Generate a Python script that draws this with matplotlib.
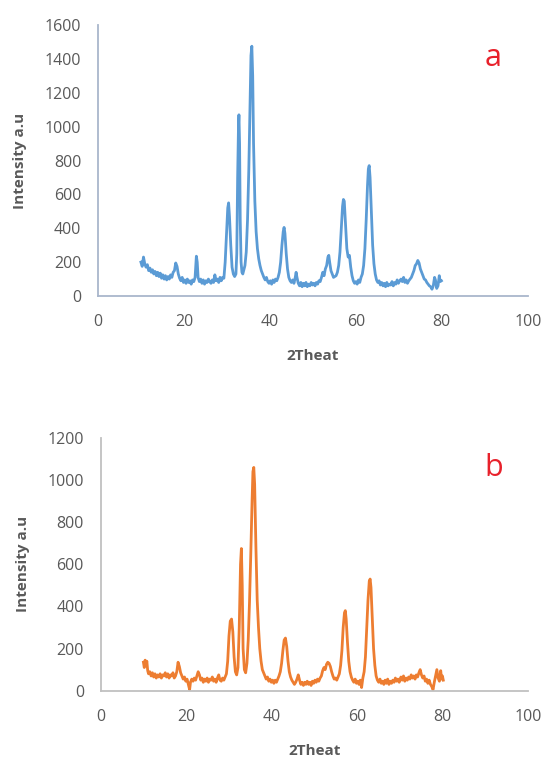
import matplotlib.pyplot as plt

# --- pattern (a): 2theta / intensity ---
theta_a = [10.0, 10.3, 10.6, 10.9, 11.2, 11.5, 11.8, 12.1, 12.4, 12.7, 13.0, 13.3, 13.6, 13.9,
           14.2, 14.5, 14.8, 15.1, 15.4, 15.7, 16.0, 16.3, 16.6, 16.9, 17.2, 17.5, 17.8, 18.1,
           18.4, 18.7, 19.0, 19.3, 19.6, 19.9, 20.2, 20.5, 20.8, 21.1, 21.4, 21.7, 22.0, 22.3,
           22.6, 22.9, 23.1, 23.3, 23.6, 23.9, 24.2, 24.5, 24.8, 25.1, 25.4, 25.7, 26.0, 26.3,
           26.6, 26.9, 27.2, 27.5, 27.8, 28.1, 28.4, 28.7, 29.0, 29.3, 29.6, 29.9, 30.2, 30.4,
           30.6, 30.9, 31.2, 31.5, 31.8, 32.1, 32.3, 32.5, 32.7, 32.8, 32.95, 33.1, 33.3, 33.5,
           33.7, 33.9, 34.2, 34.5, 34.8, 35.1, 35.4, 35.6, 35.8, 36.0, 36.2, 36.5, 36.8, 37.1,
           37.4, 37.7, 38.0, 38.3, 38.6, 38.9, 39.2, 39.5, 39.8, 40.1, 40.4, 40.7, 41.0, 41.3,
           41.6, 41.9, 42.2, 42.5, 42.8, 43.1, 43.3, 43.5, 43.8, 44.1, 44.4, 44.7, 45.0, 45.3,
           45.6, 45.9, 46.1, 46.3, 46.6, 46.9, 47.2, 47.5, 47.8, 48.1, 48.4, 48.7, 49.0, 49.3,
           49.6, 49.9, 50.2, 50.5, 50.8, 51.1, 51.4, 51.7, 52.0, 52.3, 52.6, 52.9, 53.2, 53.5,
           53.7, 53.9, 54.2, 54.5, 54.8, 55.1, 55.4, 55.7, 56.0, 56.3, 56.6, 56.9, 57.1, 57.3,
           57.6, 57.9, 58.2, 58.5, 58.8, 59.1, 59.4, 59.7, 60.0, 60.3, 60.6, 60.9, 61.2, 61.5,
           61.8, 62.1, 62.4, 62.7, 62.9, 63.1, 63.3, 63.6, 63.9, 64.2, 64.5, 64.8, 65.1, 65.4,
           65.7, 66.0, 66.3, 66.6, 66.9, 67.2, 67.5, 67.8, 68.1, 68.4, 68.7, 69.0, 69.3, 69.6,
           69.9, 70.2, 70.5, 70.8, 71.1, 71.4, 71.7, 72.0, 72.3, 72.6, 72.9, 73.2, 73.5, 73.8,
           74.1, 74.4, 74.7, 75.0, 75.3, 75.6, 75.9, 76.2, 76.5, 76.8, 77.1, 77.4, 77.7, 78.0,
           78.3, 78.5, 78.8, 79.1, 79.4, 79.6, 79.9]
int_a = [200, 175, 230, 190, 170, 185, 150, 165, 140, 155, 130, 145, 120, 140,
         115, 135, 105, 125, 100, 120, 95, 115, 100, 125, 110, 140, 150, 195,
         175, 130, 105, 90, 110, 80, 95, 75, 100, 80, 90, 70, 95, 85,
         110, 235, 200, 110, 85, 100, 75, 95, 70, 90, 80, 100, 85, 75,
         95, 80, 125, 90, 100, 80, 110, 90, 110, 105, 200, 360, 520, 550,
         470, 300, 170, 130, 115, 130, 250, 700, 1010, 1070, 900, 450, 200, 140,
         130, 150, 180, 260, 450, 750, 1150, 1420, 1475, 1300, 900, 560, 380, 280,
         220, 180, 150, 130, 110, 95, 110, 85, 75, 90, 70, 95, 80, 100,
         90, 110, 140, 200, 300, 380, 405, 370, 250, 160, 110, 90, 80, 95,
         75, 110, 140, 110, 75, 60, 80, 55, 75, 60, 80, 55, 70, 60,
         80, 65, 75, 60, 80, 70, 90, 85, 110, 140, 120, 160, 180, 230,
         240, 200, 150, 130, 110, 115, 120, 140, 180, 260, 400, 530, 570, 560,
         420, 280, 230, 240, 170, 120, 90, 75, 85, 70, 95, 80, 110, 130,
         180, 280, 450, 650, 750, 770, 700, 500, 300, 190, 130, 95, 80, 90,
         65, 80, 60, 75, 55, 80, 60, 70, 65, 85, 60, 80, 70, 95,
         75, 90, 100, 85, 110, 80, 95, 75, 90, 100, 110, 130, 150, 180,
         190, 210, 195, 160, 140, 120, 100, 95, 80, 70, 60, 55, 40, 60,
         110, 95, 45, 60, 120, 85, 90]

# --- pattern (b) ---
theta_b = [10.0, 10.2, 10.4, 10.6, 10.8, 11.0, 11.2, 11.5, 11.8, 12.1, 12.4, 12.7, 13.0, 13.3,
           13.6, 13.9, 14.2, 14.5, 14.8, 15.1, 15.4, 15.7, 16.0, 16.3, 16.6, 16.9, 17.2, 17.5,
           17.8, 18.1, 18.4, 18.7, 19.0, 19.3, 19.6, 19.9, 20.2, 20.5, 20.8, 21.0, 21.3, 21.6,
           21.9, 22.2, 22.5, 22.8, 23.1, 23.4, 23.7, 24.0, 24.3, 24.6, 24.9, 25.2, 25.5, 25.8,
           26.1, 26.4, 26.7, 27.0, 27.3, 27.6, 27.9, 28.2, 28.5, 28.8, 29.1, 29.4, 29.7, 30.0,
           30.3, 30.6, 30.9, 31.2, 31.5, 31.8, 32.1, 32.4, 32.7, 32.9, 33.1, 33.3, 33.6, 33.9,
           34.2, 34.5, 34.8, 35.1, 35.4, 35.6, 35.8, 36.0, 36.3, 36.6, 36.9, 37.2, 37.5, 37.8,
           38.1, 38.4, 38.7, 39.0, 39.3, 39.6, 39.9, 40.2, 40.5, 40.8, 41.1, 41.4, 41.7, 42.0,
           42.3, 42.6, 42.9, 43.2, 43.5, 43.8, 44.1, 44.4, 44.7, 45.0, 45.3, 45.6, 45.9, 46.2,
           46.5, 46.8, 47.1, 47.4, 47.7, 48.0, 48.3, 48.6, 48.9, 49.2, 49.5, 49.8, 50.1, 50.4,
           50.7, 51.0, 51.3, 51.6, 51.9, 52.2, 52.5, 52.8, 53.1, 53.4, 53.7, 54.0, 54.3, 54.6,
           54.9, 55.2, 55.5, 55.8, 56.1, 56.4, 56.7, 57.0, 57.2, 57.4, 57.7, 58.0, 58.3, 58.6,
           58.9, 59.2, 59.5, 59.8, 60.1, 60.4, 60.7, 61.0, 61.3, 61.6, 61.9, 62.2, 62.5, 62.8,
           63.0, 63.2, 63.5, 63.8, 64.1, 64.4, 64.7, 65.0, 65.3, 65.6, 65.9, 66.2, 66.5, 66.8,
           67.1, 67.4, 67.7, 68.0, 68.3, 68.6, 68.9, 69.2, 69.5, 69.8, 70.2, 70.5, 70.8, 71.1,
           71.4, 71.7, 72.0, 72.3, 72.6, 72.9, 73.2, 73.5, 73.8, 74.1, 74.4, 74.7, 75.0, 75.3,
           75.6, 75.9, 76.2, 76.5, 76.8, 77.1, 77.4, 77.7, 78.0, 78.3, 78.6, 78.9, 79.2, 79.5,
           79.7, 79.9, 80.1]
int_b = [135, 110, 145, 120, 140, 95, 80, 90, 70, 85, 65, 80, 60, 75,
         65, 80, 60, 75, 70, 85, 65, 80, 60, 75, 70, 85, 60, 70,
         90, 135, 115, 85, 70, 55, 65, 45, 55, 30, 5, 40, 55, 45,
         60, 50, 70, 90, 75, 50, 60, 40, 55, 45, 60, 40, 55, 50,
         65, 45, 55, 40, 60, 75, 50, 45, 60, 50, 65, 80, 140, 260,
         330, 340, 280, 160, 90, 75, 110, 300, 600, 675, 500, 200, 100, 85,
         130, 240, 420, 650, 900, 1040, 1060, 980, 680, 430, 300, 200, 140, 100,
         85, 70, 55, 65, 45, 55, 40, 50, 35, 50, 40, 55, 70, 90,
         130, 190, 240, 250, 210, 140, 90, 65, 50, 40, 30, 40, 55, 75,
         50, 30, 40, 25, 40, 30, 45, 30, 40, 25, 45, 35, 50, 40,
         55, 45, 60, 70, 95, 110, 100, 125, 135, 130, 115, 90, 70, 55,
         60, 50, 65, 80, 120, 190, 300, 370, 380, 340, 230, 140, 90, 65,
         50, 40, 55, 35, 45, 30, 50, 15, 60, 90, 160, 290, 430, 520,
         530, 490, 350, 200, 120, 70, 50, 40, 55, 35, 45, 30, 50, 35,
         55, 30, 45, 35, 50, 40, 60, 45, 55, 40, 65, 50, 70, 45,
         60, 50, 65, 55, 75, 60, 70, 55, 75, 65, 85, 100, 75, 60,
         70, 45, 55, 35, 50, 30, 20, 5, 40, 70, 100, 60, 45, 95,
         55, 70, 50]

x_ticks = [0, 20, 40, 60, 80, 100]
y_ticks_a = [0, 200, 400, 600, 800, 1000, 1200, 1400, 1600]
y_ticks_b = [0, 200, 400, 600, 800, 1000, 1200]

plt.rcParams['font.family'] = ['Open Sans', 'DejaVu Sans']

fig = plt.figure(figsize=(5.47, 7.59), dpi=100)
ax1 = fig.add_axes([0.179, 0.610, 0.786, 0.357])
ax2 = fig.add_axes([0.184, 0.090, 0.782, 0.333])

panels = [
    (ax1, theta_a, int_a, '#5b9bd5', y_ticks_a, '#a9b6cc', 'a', -0.195),
    (ax2, theta_b, int_b, '#ed7d31', y_ticks_b, '#c0c0c0', 'b', -0.21),
]
for ax, x, y, col, yt, axcol, tag, xlab_y in panels:
    ax.plot(x, y, color=col, lw=2.0)
    ax.set_xlim(0, 100)
    ax.set_ylim(0, yt[-1])
    ax.set_xticks(x_ticks)
    ax.set_yticks(yt)
    for s in ['top', 'right']:
        ax.spines[s].set_visible(False)
    for s in ['left', 'bottom']:
        ax.spines[s].set_color(axcol)
        ax.spines[s].set_linewidth(1.3)
    ax.tick_params(length=0, labelsize=11.5, labelcolor='#595959')
    ax.tick_params(axis='y', pad=12)
    ax.tick_params(axis='x', pad=13)
    ax.set_xlabel('2Theat', fontsize=11, fontweight='bold', color='#595959')
    ax.set_ylabel('Intensity a.u', fontsize=11, fontweight='bold', color='#595959')
    ax.xaxis.set_label_coords(0.5, xlab_y)
    ax.yaxis.set_label_coords(-0.165, 0.5)
    ax.text(0.92, 0.88, tag, transform=ax.transAxes, color='#e8212b',
            fontsize=22, ha='center', va='center')

fig.savefig('out.png', dpi=100)
